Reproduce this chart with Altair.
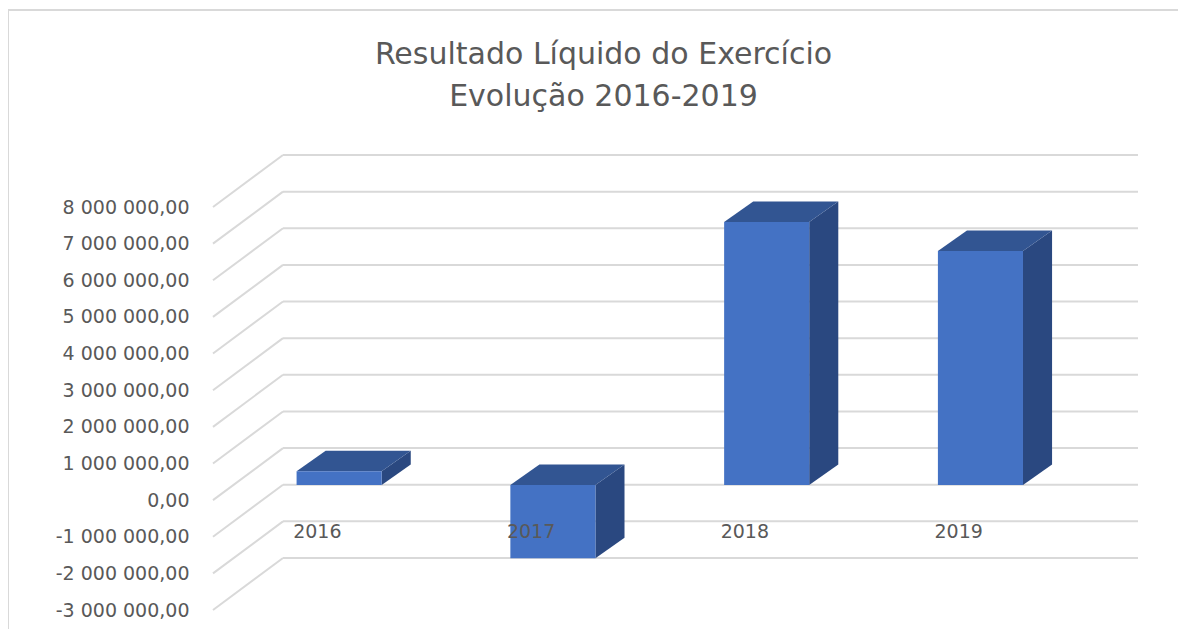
import altair as alt
import pandas as pd

years = ["2016", "2017", "2018", "2019"]
values = [380000, -2000000, 7180000, 6390000]
ticks = [8000000, 7000000, 6000000, 5000000, 4000000, 3000000, 2000000,
         1000000, 0, -1000000, -2000000, -3000000]
title_lines = ["Resultado Líquido do Exercício", "Evolução 2016-2019"]

FONT = "DejaVu Sans"
TEXT = "#595959"
GRID = "#D9D9D9"
FRONT = "#4472C4"
TOP = "#325592"
SIDE = "#2A4880"

# Oblique projection, in data units: one step of "depth" moves right and up.
WALL_DX, WALL_DY = 0.3275, 1420000
GAP_DX, GAP_DY = 0.09, 410000
BAR_DX, BAR_DY = 0.136, 560000
BAR_W = 0.398
LABEL_DX = -0.012
LABEL_Y = -870000
X_MAX = 3.827
Y_MAX = 8000000 + WALL_DY

label_expr = ("replace(replace(replace(format(datum.value, ',.2f'), /,/g, ' '), '.', ','), '\u2212', '-')")

xs = alt.Scale(domain=[-0.5, X_MAX], nice=False, zero=False)
ys = alt.Scale(domain=[-3000000, Y_MAX], nice=False, zero=False)
X = alt.X("x:Q", scale=xs, axis=None)
Y = alt.Y("y:Q", scale=ys, axis=alt.Axis(
    values=ticks, title=None, grid=False, domain=False, ticks=False,
    labelExpr=label_expr, labelFont=FONT, labelFontSize=19, labelColor=TEXT,
    labelPadding=24, labelOverlap=False, labelFlush=False))

grid = pd.DataFrame({
    "x": [-0.5 + WALL_DX] * len(ticks),
    "x2": [X_MAX] * len(ticks),
    "y": [t + WALL_DY for t in ticks],
})
diag = pd.DataFrame({
    "x": [-0.5] * len(ticks),
    "x2": [-0.5 + WALL_DX] * len(ticks),
    "y": ticks,
    "y2": [t + WALL_DY for t in ticks],
})

front, side, top = [], [], []
for i, (yr, v) in enumerate(zip(years, values)):
    x0 = i + GAP_DX - BAR_W / 2
    x1 = x0 + BAR_W
    lo = min(v, 0) + GAP_DY
    hi = max(v, 0) + GAP_DY
    front.append({"year": yr, "x": x0, "x2": x1, "y": lo, "y2": hi})
    side += [
        {"year": yr, "x": x1, "y": lo, "y2": hi},
        {"year": yr, "x": x1 + BAR_DX, "y": lo + BAR_DY, "y2": hi + BAR_DY},
    ]
    top += [
        {"year": yr, "x": x0, "x2": x1, "y": hi},
        {"year": yr, "x": x0 + BAR_DX, "x2": x1 + BAR_DX, "y": hi + BAR_DY},
    ]
front, side, top = map(pd.DataFrame, (front, side, top))
labels = pd.DataFrame({"x": [i + LABEL_DX for i in range(len(years))],
                       "y": [LABEL_Y] * len(years), "t": years})

frame_top = alt.Chart(pd.DataFrame({"a": [0]})).mark_rule(color=GRID, strokeWidth=2, clip=False).encode(
    x=alt.value(-205), x2=alt.value(973), y=alt.value(-145))
frame_left = alt.Chart(pd.DataFrame({"a": [0]})).mark_rule(color=GRID, strokeWidth=2, clip=False).encode(
    x=alt.value(-205), y=alt.value(-145), y2=alt.value(474))

grid_l = alt.Chart(grid).mark_rule(color=GRID, strokeWidth=2).encode(x=X, x2="x2:Q", y=Y)
diag_l = alt.Chart(diag).mark_rule(color=GRID, strokeWidth=2).encode(x=X, x2="x2:Q", y=Y, y2="y2:Q")

side_l = alt.Chart(side).mark_area(color=SIDE, orient="vertical").encode(
    x=X, y=Y, y2="y2:Q", detail="year:N")
top_l = alt.Chart(top).mark_area(color=TOP, orient="horizontal").encode(
    y=Y, x=X, x2="x2:Q", detail="year:N")
front_l = alt.Chart(front).mark_rect(color=FRONT).encode(x=X, x2="x2:Q", y=Y, y2="y2:Q")
text_l = alt.Chart(labels).mark_text(font=FONT, fontSize=19, color=TEXT).encode(x=X, y=Y, text="t:N")

chart = alt.layer(
    frame_top, frame_left, grid_l, diag_l, side_l, top_l, front_l, text_l
).properties(
    width=925,
    height=455,
    background="white",
    padding={"left": 205, "top": 147, "right": 40, "bottom": 19},
    autosize=alt.AutoSizeParams(type="none"),
    title=alt.TitleParams(
        text=title_lines, font=FONT, fontSize=30, fontWeight="normal", color=TEXT,
        anchor="middle", lineHeight=42, dx=-72, offset=5, dy=108),
).configure_view(stroke=None)

chart.save("out.html", embed_options={"renderer": "svg", "actions": False})
